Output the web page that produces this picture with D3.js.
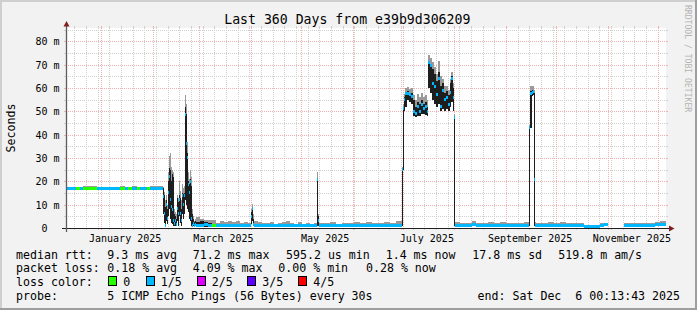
<!DOCTYPE html>
<html>
<head>
<meta charset="utf-8">
<script src="https://cdn.jsdelivr.net/npm/d3@7"></script>
<style>
  html, body { margin: 0; padding: 0; background: #f2f2f2; }
  svg { display: block; }
  text { font-family: "DejaVu Sans Mono", monospace; fill: #000; }
</style>
</head>
<body>
<script>
var width = 697,
    height = 310;
var plotLeft = 66, plotTop = 28, plotW = 600, plotH = 200;

// time window: the last 360 days up to the "end:" stamp
const windowStart = new Date(2024, 11, 11, 0, 13, 43);
const windowEnd = new Date(2025, 11, 6, 0, 13, 43);
const windowDays = 360;

// y axis (milliseconds)
const yMaxMs = 85.7;
const yTickMs = [0, 10, 20, 30, 40, 50, 60, 70, 80];
const yTickLabels = ["0  ", "10 m", "20 m", "30 m", "40 m", "50 m", "60 m", "70 m", "80 m"];

// month labels (rrdtool centres them in the month)
const monthLabels = ["January 2025", "March 2025", "May 2025", "July 2025", "September 2025", "November 2025"];
const monthLabelMonth = [0, 2, 4, 6, 8, 10];

// samples: start of each step in days after windowStart, values in ms
const sampleDay = [
    0, 6.0, 8.4, 10.2, 18.6, 32.4, 35.4, 37.2, 39.6, 42.6, 44.4, 48.6, 50.4, 55.2,
    58.2, 58.8, 59.4, 60.0, 60.6, 61.2, 61.8, 62.4, 63.0, 63.6, 64.2, 64.8, 65.4, 66.0, 66.6, 67.2, 67.8,
    68.4, 69.0, 69.6, 70.2, 70.8, 71.4, 72.0, 72.6, 73.2, 73.8, 74.4, 75.0, 75.6, 76.2, 76.8, 77.4,
    78.0, 80.4, 82.8, 85.2, 87.6, 90.0, 92.4, 94.8, 97.2, 99.6, 102.0, 104.4, 106.8, 109.2, 111.0,
    111.6, 112.2, 112.8, 115.2, 117.6, 120.0, 122.4, 124.8, 127.2, 129.6, 132.0, 134.4, 136.8, 139.2, 141.6,
    144.0, 146.4, 148.8, 150.6, 151.2, 151.8, 154.8, 158.4, 162.0, 165.6, 169.2, 172.8, 176.4, 180.0, 183.6,
    187.2, 190.8, 194.4, 198.0,
    201.6, 202.2, 202.8, 203.4, 204.6, 205.8, 207.0, 208.2, 209.4, 210.6, 211.8, 213.0, 214.2, 215.4, 216.6,
    217.2, 218.4, 219.6, 220.8, 222.0, 223.2, 224.4, 225.6, 226.8, 228.0, 229.2, 230.4, 231.0, 232.2, 232.8, 233.4,
    236.4, 240.0, 243.6, 246.0, 249.6, 253.2, 256.8, 260.4, 264.0, 267.6, 271.2, 274.8,
    277.8, 278.4, 279.6, 280.2, 280.8, 281.4,
    282.0, 285.6, 289.2, 292.8, 296.4, 300.0, 303.6, 307.2, 310.8, 314.4, 318.0, 320.4, 322.8, 325.2,
    334.8, 338.4, 342.0, 345.6, 349.2, 353.4, 356.4
];
const medianMs = [
    16.9, 16.9, 16.8, 16.9, 16.9, 16.9, 16.9, 16.9, 16.9, 16.9, 16.9, 17.0, 17.0, 17.0,
    13.5, 6, 1, 10, 4, 15, 22, 12, 9, 8, 3, 2, 3, 1.5, 8.5, 6, 12,
    6, 3, 14, 10, 14, 48.5, 36, 30, 18.5, 15, 20, 4, 1, 2, 1, 1.5,
    1.2, 1.0, 1.5, 1.0, 1.1, 1.0, 1.0, 1.0, 1.1, 1.0, 1.0, 1.0, 1.0, 1.0, 5,
    8.2, 1.5, 1.0, 1.0, 1.0, 1.0, 1.0, 0.9, 1.0, 1.0, 1.2, 1.0, 0.9, 0.9, 0.9,
    1.0, 0.9, 1.0, 20.6, 3, 1.0, 1.0, 1.0, 1.0, 1.0, 1.0, 1.0, 1.0, 1.0, 1.0,
    1.0, 1.0, 1.0, 1.0,
    25, 51, 55, 57.5, 57.8, 57, 56.5, 50, 49, 52, 50, 53, 51, 52, 50,
    70.8, 69.5, 62, 60.5, 57, 64, 52, 59, 55, 56, 53, 58, 64, 56, 47.5, 1.0,
    1.0, 1.0, 1.3, 1.0, 1.0, 1.0, 1.0, 1.0, 1.0, 1.0, 1.0, 1.0,
    43, 57.5, 58.2, 58.6, 20.6, 1.0,
    1.0, 1.0, 1.0, 1.0, 1.0, 1.0, 1.0, 1.0, 0.6, 0.6, 0.6, 1.2, 1.3, null,
    1.0, 1.0, 1.0, 1.0, 1.0, 1.6, 1.7
];
const smokeLoMs = [
    16.5, 16.5, 16.5, 16.5, 16.5, 16.6, 16.5, 16.6, 16.5, 16.6, 16.5, 16.6, 16.5, 16.6,
    6, 2, 0.5, 3, 1.5, 5, 8, 4, 2, 1.5, 1, 0.8, 1, 0.8, 3, 1, 5,
    2, 1, 6, 4, 6, 12, 10, 8, 7, 4, 3, 0.8, 0.5, 0.8, 0.6, 0.8,
    0.6, 0.6, 0.6, 0.6, 0.6, 0.6, 0.6, 0.6, 0.6, 0.6, 0.6, 0.6, 0.6, 0.6, 1.5,
    3, 0.8, 0.6, 0.6, 0.6, 0.6, 0.6, 0.6, 0.6, 0.6, 0.6, 0.6, 0.5, 0.6, 0.5,
    0.6, 0.6, 0.6, 1, 0.8, 0.6, 0.6, 0.6, 0.6, 0.6, 0.6, 0.6, 0.6, 0.6, 0.6,
    0.6, 0.6, 0.6, 0.6,
    1, 25, 50, 52, 55, 54, 53, 48, 47.5, 48, 48, 49, 49, 48.5, 48,
    60, 58, 55, 53, 52, 53, 50, 51, 50, 51, 50, 52, 54, 50, 1, 0.6,
    0.6, 0.6, 0.7, 0.6, 0.6, 0.6, 0.6, 0.6, 0.6, 0.6, 0.6, 0.6,
    1, 43, 56.5, 57, 0.8, 0.6,
    0.6, 0.6, 0.6, 0.6, 0.6, 0.6, 0.6, 0.6, 0.4, 0.4, 0.4, 0.7, 0.7, null,
    0.6, 0.6, 0.6, 0.6, 0.6, 1.0, 1.0
];
const smokeHiMs = [
    17.3, 17.3, 17.2, 17.3, 17.3, 17.3, 17.3, 17.3, 17.3, 17.2, 17.3, 17.3, 17.4, 17.5,
    17, 14, 9, 12, 8, 20, 25.5, 25, 20, 23, 22, 6, 5, 4, 13, 11, 14,
    13, 8, 15, 14.5, 15, 52, 49, 32, 20, 19, 21, 18, 6, 4, 2.5, 3,
    2.5, 3, 2.5, 2, 1.8, 1.6, 1.6, 1.5, 1.7, 1.5, 1.6, 1.5, 1.5, 1.5, 7,
    9.2, 4, 1.6, 1.5, 1.5, 1.4, 1.5, 1.4, 1.5, 1.5, 1.8, 1.5, 1.3, 1.4, 1.3,
    1.4, 1.3, 1.4, 21.3, 5, 1.4, 1.4, 1.5, 1.4, 1.5, 1.4, 1.5, 1.4, 1.5, 1.4,
    1.5, 1.4, 1.5, 1.6,
    25.5, 52, 56, 58, 58.5, 58, 58, 55, 52, 54, 53, 55, 53, 54, 52,
    71.5, 70, 68, 66, 63, 67, 61, 62, 58, 58.5, 57, 62, 65, 60, 48, 1.6,
    1.5, 1.4, 1.7, 1.5, 1.4, 1.5, 1.4, 1.5, 1.4, 1.5, 1.4, 1.5,
    43.5, 58.6, 59, 59.2, 58, 1.6,
    1.5, 1.4, 1.5, 1.4, 1.5, 1.4, 1.5, 1.4, 0.9, 0.9, 1.0, 1.6, 1.7, null,
    1.4, 1.4, 1.5, 1.4, 1.5, 2.1, 2.2
];
const smokeTopMs = [
    17.6, 17.6, 17.5, 18.0, 17.5, 17.8, 17.5, 17.6, 17.9, 17.5, 17.7, 17.6, 18.0, 18.2,
    17.5, 15.5, 12, 14, 10, 24, 31, 32, 26, 25, 24, 8, 7, 6, 14, 13, 20,
    16, 12, 19, 17, 18, 57, 53, 37, 24, 21, 25, 22, 8, 5, 3, 4,
    4.5, 4, 3.5, 3.5, 3.4, 2.2, 3.0, 2.6, 3.2, 2.4, 3.0, 2.2, 2.6, 2.0, 8,
    10.3, 6, 2.8, 2.4, 2.0, 2.2, 2.6, 1.8, 2.2, 2.6, 3.2, 2.0, 1.8, 2.4, 1.8,
    2.2, 1.8, 2.0, 23.8, 6, 2.2, 2.0, 2.4, 1.9, 2.3, 2.0, 2.5, 2.0, 2.6, 2.2,
    2.0, 2.4, 2.1, 2.8,
    26, 53, 57.5, 60, 60.5, 59.5, 60, 57, 55, 57.5, 56, 58, 56, 57, 55,
    74.3, 73, 71, 69, 66, 71.5, 65, 64, 61, 61, 59, 64, 67, 62, 49, 2.4,
    2.2, 2.0, 2.8, 2.3, 2.0, 2.4, 2.0, 2.6, 2.0, 2.2, 2.0, 2.4,
    44, 61, 61, 61, 59, 2.4,
    2.2, 2.0, 2.6, 2.2, 2.4, 2.0, 2.3, 2.0, 1.1, 1.2, 1.3, 2.2, 2.0, null,
    2.2, 2.0, 2.2, 2.0, 2.2, 2.7, 2.8
];
// lost pings out of 5 for each step (picks the median colour)
const lossCount = [
    1, 0, 1, 0, 1, 0, 1, 0, 1, 0, 1, 0, 1, 1,
    1, 1, 1, 1, 1, 1, 1, 1, 1, 1, 1, 1, 1, 1, 1, 1, 1,
    1, 1, 1, 1, 1, 1, 1, 1, 1, 1, 1, 1, 1, 1, 1, 1,
    1, 1, 1, 1, 0, 1, 1, 1, 1, 1, 1, 1, 1, 1, 1,
    1, 1, 1, 1, 1, 1, 1, 1, 1, 1, 1, 1, 1, 1, 1,
    1, 1, 1, 1, 1, 1, 1, 1, 1, 1, 1, 1, 1, 1, 1,
    1, 1, 1, 1,
    1, 1, 1, 1, 1, 1, 1, 1, 1, 1, 1, 1, 1, 1, 1,
    1, 1, 1, 1, 1, 1, 1, 1, 1, 1, 1, 1, 1, 1, 1, 1,
    1, 1, 1, 1, 1, 1, 1, 1, 1, 1, 1, 1,
    1, 1, 1, 1, 1, 1,
    1, 1, 1, 1, 1, 1, 1, 1, 1, 1, 1, 1, 1, null,
    1, 1, 1, 1, 1, 1, 1
];

const lossLabels = ["0", "1/5", "2/5", "3/5", "4/5"];
const lossColors = ["#26ff00", "#00b8ff", "#dd00ff", "#5e00ff", "#ff0000"];

const titleText = "Last 360 Days from e39b9d306209";
const rttLegend = ["median rtt:", "9.3 ms avg", "71.2 ms max", "595.2 us min", "1.4 ms now", "17.8 ms sd", "519.8 m am/s"];
const lossLegend = ["packet loss:", "0.18 % avg", "4.09 % max", "0.00 % min", "0.28 % now"];
const probeLegend = ["probe:", "5 ICMP Echo Pings (56 Bytes) every 30s"];
const endStamp = "end: Sat Dec  6 00:13:43 2025";

function dayToDate(d) {
    return new Date(windowStart.getTime() + d * 864e5);
}

var x = d3.scaleTime()
    .domain([windowStart, windowEnd])
    .range([plotLeft, plotLeft + plotW]);
var y = d3.scaleLinear()
    .domain([0, yMaxMs])
    .range([plotTop + plotH, plotTop]);

var svg = d3.select("body").append("svg")
    .attr("width", width)
    .attr("height", height)
    .attr("viewBox", [0, 0, width, height]);

// background + shading border like rrdtool
svg.append("rect").attr("width", width).attr("height", height).attr("fill", "#f2f2f2");
svg.append("path").attr("d", "M0,1H" + width + "M1,0V" + height).attr("stroke", "#cfcfcf").attr("stroke-width", 2);
svg.append("path").attr("d", "M0," + (height - 1) + "H" + width + "M" + (width - 1) + ",0V" + height)
    .attr("stroke", "#9e9e9e").attr("stroke-width", 2);

// canvas
svg.append("rect")
    .attr("x", plotLeft).attr("y", plotTop)
    .attr("width", plotW).attr("height", plotH)
    .attr("fill", "#ffffff");

// grid
var grid = svg.append("g").attr("shape-rendering", "crispEdges");
function hLine(v, color) {
    let py = Math.round(y(v)) + 0.5;
    grid.append("line").attr("x1", plotLeft).attr("x2", plotLeft + plotW).attr("y1", py).attr("y2", py)
        .attr("stroke", color).attr("stroke-dasharray", "1,1");
    grid.append("line").attr("x1", plotLeft - 2).attr("x2", plotLeft).attr("y1", py).attr("y2", py).attr("stroke", color);
    grid.append("line").attr("x1", plotLeft + plotW).attr("x2", plotLeft + plotW + 2).attr("y1", py).attr("y2", py).attr("stroke", color);
}
function vLine(t, color) {
    let px = Math.round(x(t)) + 0.5;
    grid.append("line").attr("x1", px).attr("x2", px).attr("y1", plotTop).attr("y2", plotTop + plotH)
        .attr("stroke", color).attr("stroke-dasharray", "1,1");
    grid.append("line").attr("x1", px).attr("x2", px).attr("y1", plotTop - 2).attr("y2", plotTop).attr("stroke", color);
    grid.append("line").attr("x1", px).attr("x2", px).attr("y1", plotTop + plotH).attr("y2", plotTop + plotH + 2).attr("stroke", color);
}
var minorColor = "#d0d0d0", majorColor = "#f1b0b0";
d3.range(5, yMaxMs, 5).filter(function (v) { return v % 10 !== 0; }).forEach(function (v) { hLine(v, minorColor); });
let monthStarts = d3.timeMonth.range(windowStart, windowEnd);
let monthPx = monthStarts.map(function (t) { return Math.round(x(t)); });
d3.timeMonday.range(windowStart, windowEnd).forEach(function (t) {
    if (monthPx.indexOf(Math.round(x(t))) < 0) vLine(t, minorColor);
});
yTickMs.slice(1).forEach(function (v) { hLine(v, majorColor); });
monthStarts.forEach(function (t) { vLine(t, majorColor); });

// data: smoke then median band
let samples = sampleDay.map(function (d, i) {
    return {
        t0: dayToDate(d),
        t1: dayToDate(i + 1 < sampleDay.length ? sampleDay[i + 1] : windowDays),
        med: medianMs[i], lo: smokeLoMs[i], hi: smokeHiMs[i], top: smokeTopMs[i], loss: lossCount[i]
    };
}).filter(function (s) { return s.med !== null; });

var data = svg.append("g").attr("shape-rendering", "crispEdges");
data.selectAll("rect.outer")
    .data(samples)
    .join("rect")
    .attr("class", "outer")
    .attr("x", function (d) { return x(d.t0); })
    .attr("width", function (d) { return x(d.t1) - x(d.t0); })
    .attr("y", function (d) { return y(d.top); })
    .attr("height", function (d) { return y(d.hi) - y(d.top); })
    .attr("fill", "#9a9a9a");
data.selectAll("rect.inner")
    .data(samples)
    .join("rect")
    .attr("class", "inner")
    .attr("x", function (d) { return x(d.t0); })
    .attr("width", function (d) { return x(d.t1) - x(d.t0); })
    .attr("y", function (d) { return y(d.hi); })
    .attr("height", function (d) { return Math.max(1, y(d.lo) - y(d.hi)); })
    .attr("fill", "#1e1e1e");
data.selectAll("rect.median")
    .data(samples)
    .join("rect")
    .attr("class", "median")
    .attr("x", function (d) { return x(d.t0); })
    .attr("width", function (d) { return x(d.t1) - x(d.t0); })
    .attr("y", function (d) { return Math.min(y(d.med) - 1.5, plotTop + plotH - 3); })
    .attr("height", 3)
    .attr("fill", function (d) { return lossColors[d.loss]; });

// axes
var axisColor = "#1f1f1f", arrowColor = "#801f1f";
svg.append("line")
    .attr("x1", plotLeft - 4).attr("x2", plotLeft + plotW + 3)
    .attr("y1", plotTop + plotH + 0.5).attr("y2", plotTop + plotH + 0.5)
    .attr("stroke", axisColor);
svg.append("line")
    .attr("x1", plotLeft + 0.5).attr("x2", plotLeft + 0.5)
    .attr("y1", plotTop + plotH + 4).attr("y2", plotTop - 3)
    .attr("stroke", "#5c5c5c").attr("stroke-width", 1.3);
svg.append("path")
    .attr("d", d3.line()([[plotLeft - 2.5, plotTop - 1.5], [plotLeft + 3.5, plotTop - 1.5], [plotLeft + 0.5, plotTop - 7]]) + "Z")
    .attr("fill", arrowColor);
svg.append("path")
    .attr("d", d3.line()([[plotLeft + plotW + 3, plotTop + plotH - 2.5], [plotLeft + plotW + 3, plotTop + plotH + 3.5], [plotLeft + plotW + 8.5, plotTop + plotH + 0.5]]) + "Z")
    .attr("fill", arrowColor);

// y tick labels
svg.append("g").selectAll("text")
    .data(yTickMs)
    .join("text")
    .attr("x", plotLeft - 6.5)
    .attr("y", function (d) { return Math.round(y(d)) + 0.5; })
    .attr("dy", "0.36em")
    .attr("text-anchor", "end")
    .style("white-space", "pre")
    .style("font-size", "10px")
    .text(function (d, i) { return yTickLabels[i]; });

// month labels
svg.append("g").selectAll("text")
    .data(monthLabels)
    .join("text")
    .attr("x", function (d, i) { return x(new Date(2025, monthLabelMonth[i], 15, 12)); })
    .attr("y", plotTop + plotH + 13.5)
    .attr("text-anchor", "middle")
    .style("font-size", "10px")
    .text(function (d) { return d; });

// title and side labels
svg.append("text")
    .attr("x", 347.3).attr("y", 23.5)
    .attr("text-anchor", "middle")
    .style("font-size", "13.2px")
    .text(titleText);
svg.append("text")
    .attr("transform", "translate(15," + (plotTop + plotH / 2) + ") rotate(-90)")
    .attr("text-anchor", "middle")
    .style("font-size", "11.6px")
    .text("Seconds");
svg.append("text")
    .attr("transform", "translate(685,5) rotate(90)")
    .style("font-size", "8.1px")
    .style("fill", "#b4b4b4")
    .text("RRDTOOL / TOBI OETIKER");

// legend
var legendSize = "11.6px";
function legendRow(items, xs, baseline) {
    svg.append("g").selectAll("text")
        .data(items)
        .join("text")
        .attr("x", function (d, i) { return xs[i]; })
        .attr("y", baseline)
        .style("white-space", "pre")
        .style("font-size", legendSize)
        .text(function (d) { return d; });
}
legendRow(rttLegend, [16, 107.3, 192.7, 286, 385.7, 472.3, 558.3], 258.5);
legendRow(lossLegend, [16, 107.3, 192.7, 278.3, 366], 272.2);
legendRow(["loss color:"], [16], 285.9);
legendRow(probeLegend, [16, 107.3], 299.6);
svg.append("text")
    .attr("x", 680).attr("y", 299.6)
    .attr("text-anchor", "end")
    .style("white-space", "pre")
    .style("font-size", legendSize)
    .text(endStamp);

let boxX = [108.3, 145.7, 196.7, 247.3, 298.3];
let lossKey = svg.append("g");
lossKey.selectAll("rect")
    .data(lossColors)
    .join("rect")
    .attr("x", function (d, i) { return Math.round(boxX[i]) + 0.5; })
    .attr("y", 276.5)
    .attr("width", 8)
    .attr("height", 9)
    .attr("fill", function (d) { return d; })
    .attr("stroke", "#000")
    .attr("shape-rendering", "crispEdges");
lossKey.selectAll("text")
    .data(lossLabels)
    .join("text")
    .attr("x", function (d, i) { return boxX[i] + 15; })
    .attr("y", 285.9)
    .style("font-size", legendSize)
    .text(function (d) { return d; });
</script>
</body>
</html>
